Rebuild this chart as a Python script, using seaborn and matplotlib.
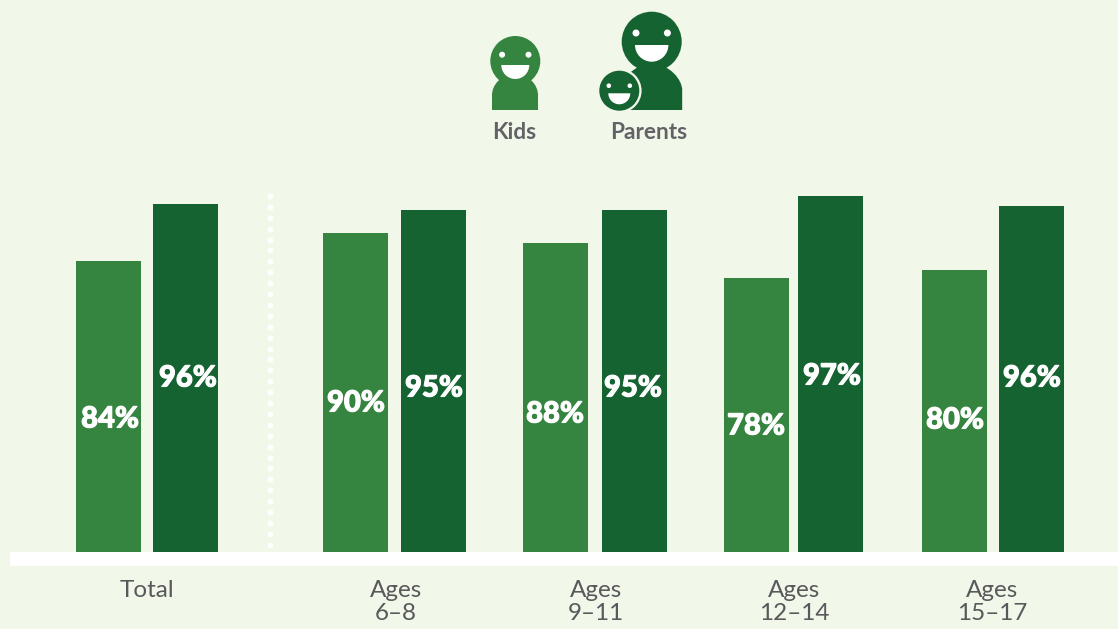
import numpy as np
import pandas as pd
import seaborn as sns
import matplotlib.pyplot as plt
import matplotlib.patheffects as pe
from matplotlib.patches import Circle, Wedge, Rectangle, PathPatch
from matplotlib.path import Path

# Data
groups = ['Total', 'Ages\n6–8', 'Ages\n9–11', 'Ages\n12–14', 'Ages\n15–17']
kids_pct = [84, 90, 88, 78, 80]
parents_pct = [96, 95, 95, 97, 96]
# the bars are not strictly to scale with the labels, so heights are read separately
kids_height = [291, 319, 309, 274, 282]
parents_height = [348, 342, 342, 356, 346]

# Layout (pixels)
kids_x = [108.5, 355.5, 555.5, 756.5, 954.5]
parents_x = [185.5, 433.5, 634.5, 830.5, 1031.5]
kids_label_y = [135, 151, 140, 128, 134]
parents_label_y = [176, 166, 166, 178, 176]
kids_label_x = [110, 356, 555, 756, 955]
parents_label_x = [188, 434, 633, 832, 1032]
tick_x = [147, 396, 596, 794, 992]

BG = '#f1f7e9'
KID = '#358440'
PARENT = '#166332'
GREY = '#58595b'

sns.set_theme(style='white')
plt.rcParams['font.family'] = ['Lato', 'DejaVu Sans']

df = pd.DataFrame({
    'x': kids_x + parents_x,
    'height': kids_height + parents_height,
    'who': ['Kids'] * 5 + ['Parents'] * 5,
})

fig = plt.figure(figsize=(11.18, 6.29), dpi=100, facecolor=BG)
ax = fig.add_axes([0, 77 / 629, 1, 552 / 629], facecolor=BG)

sns.barplot(data=df, x='x', y='height', hue='who', native_scale=True, dodge=False,
            width=65 / 74, palette={'Kids': KID, 'Parents': PARENT}, saturation=1,
            linewidth=0, legend=False, ax=ax)

ax.set_xlim(0, 1118)
ax.set_ylim(0, 552)
ax.set_xlabel('')
ax.set_ylabel('')
ax.set_yticks([])
ax.set_xticks(tick_x)
ax.set_xticklabels(groups, fontsize=17.5, color=GREY, linespacing=1.12)
ax.tick_params(axis='x', length=0, pad=20)
sns.despine(ax=ax, left=True, bottom=True, right=True, top=True)

for x, y, v in zip(kids_label_x + parents_label_x, kids_label_y + parents_label_y,
                   kids_pct + parents_pct):
    ax.text(x, y - 2.5, f'{v}%', color='white', fontsize=21, fontweight='black',
            ha='center', va='center',
            path_effects=[pe.withStroke(linewidth=0.8, foreground='white')])

# Overlay in pixel coords for baseline, divider and the icons
ov = fig.add_axes([0, 0, 1, 1], facecolor='none')
ov.set_xlim(0, 1118)
ov.set_ylim(629, 0)
ov.axis('off')

ov.add_patch(Rectangle((10, 552), 1108, 14, color='white', lw=0))
dots = np.arange(544.7, 190, -10.9)
ov.plot([270] * len(dots), dots, 'o', color='white', ms=4.2, mew=0)


def body(cx, half, top, shoulder, color):
    left, right = cx - half, cx + half
    verts = [(left, 110), (left, shoulder),
             (left, shoulder - 10), (cx - half * 0.6, top), (cx, top),
             (cx + half * 0.6, top), (right, shoulder - 10), (right, shoulder),
             (right, 110), (left, 110)]
    codes = [Path.MOVETO, Path.LINETO,
             Path.CURVE4, Path.CURVE4, Path.CURVE4,
             Path.CURVE4, Path.CURVE4, Path.CURVE4,
             Path.LINETO, Path.CLOSEPOLY]
    ov.add_patch(PathPatch(Path(verts, codes), color=color, lw=0))


def face(cx, cy, r, eye_dx, eye_dy, eye_r, smile_dy, smile_r, color):
    ov.add_patch(Circle((cx, cy), r, color=color, lw=0))
    for s in (-1, 1):
        ov.add_patch(Circle((cx + s * eye_dx, cy - eye_dy), eye_r, color='white', lw=0))
    # y axis is flipped, so 0-180 opens downward on screen
    ov.add_patch(Wedge((cx, cy + smile_dy), smile_r, 0, 180, color='white', lw=0))


body(515, 23, 74, 95, KID)
face(515.3, 61, 25, 13.2, 6.3, 3, 4, 14, KID)

body(651.7, 30.5, 64, 90, PARENT)
face(651.7, 41.7, 30, 15.7, 8.7, 3.5, 3.3, 16.7, PARENT)
ov.add_patch(Circle((619.3, 90.7), 22.3, color=BG, lw=0))
face(619.3, 90.7, 20, 10.5, 5, 2.3, 2.6, 11, PARENT)

ov.text(514.5, 132.5, 'Kids', color='#626366', fontsize=16.3, fontweight='bold',
        ha='center', va='center')
ov.text(649, 132.5, 'Parents', color='#626366', fontsize=16.3, fontweight='bold',
        ha='center', va='center')

fig.savefig('out.png', dpi=100, facecolor=BG)
